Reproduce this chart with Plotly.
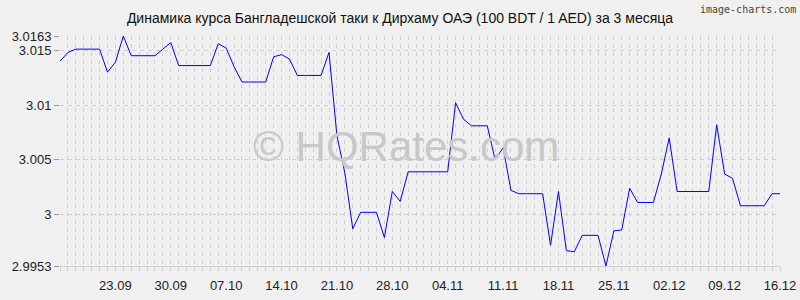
import pandas as pd
import plotly.graph_objects as go

start_date = "2024-09-16"
rates = [
    3.0140, 3.0148, 3.0151, 3.0151, 3.0151, 3.0151, 3.0130, 3.0139, 3.0163, 3.0145,
    3.0145, 3.0145, 3.0145, 3.0151, 3.0157, 3.0136, 3.0136, 3.0136, 3.0136, 3.0136,
    3.0156, 3.0152, 3.0135, 3.0121, 3.0121, 3.0121, 3.0121, 3.0144, 3.0146, 3.0142,
    3.0127, 3.0127, 3.0127, 3.0127, 3.0148, 3.0072, 3.0038, 2.9987, 3.0002, 3.0002,
    3.0002, 2.9979, 3.0021, 3.0012, 3.0039, 3.0039, 3.0039, 3.0039, 3.0039, 3.0039,
    3.0102, 3.0087, 3.0081, 3.0081, 3.0081, 3.0050, 3.0061, 3.0022, 3.0019, 3.0019,
    3.0019, 3.0019, 2.9972, 3.0021, 2.9967, 2.9966, 2.9981, 2.9981, 2.9981, 2.9953,
    2.9985, 2.9986, 3.0024, 3.0011, 3.0011, 3.0011, 3.0037, 3.0070, 3.0021, 3.0021,
    3.0021, 3.0021, 3.0021, 3.0082, 3.0037, 3.0033, 3.0008, 3.0008, 3.0008, 3.0008,
    3.0019, 3.0019,
]
dates = pd.date_range(start_date, periods=len(rates), freq="D")

x_tick_dates = pd.date_range("2024-09-23", "2024-12-16", freq="7D")
x_tick_labels = ["23.09", "30.09", "07.10", "14.10", "21.10", "28.10", "04.11",
                 "11.11", "18.11", "25.11", "02.12", "09.12", "16.12"]
y_tick_vals = [2.9953, 3.0, 3.005, 3.01, 3.015, 3.0163]
y_tick_text = ["2.9953", "3", "3.005", "3.01", "3.015", "3.0163"]

title_text = "Динамика курса Бангладешской таки к Дирхаму ОАЭ (100 BDT / 1 AED) за 3 месяца"

bg = "#f0f0f0"
grid = "#cfcfcf"
dash = "4px,4px"

fig = go.Figure()
fig.add_trace(go.Scatter(x=dates, y=rates, mode="lines",
                         line=dict(color="#0000ff", width=1), hoverinfo="x+y"))

fig.update_layout(
    width=800, height=300,
    margin=dict(l=60, r=20, t=36, b=34, autoexpand=False),
    paper_bgcolor=bg, plot_bgcolor=bg,
    showlegend=False,
    font=dict(family="Liberation Sans, Arial, sans-serif", size=13, color="#222222"),
    title=dict(text=title_text, x=0.5, xanchor="center", y=0.94, yanchor="middle",
               font=dict(size=14, color="#111111")),
    annotations=[
        dict(text="© HQRates.com", xref="paper", yref="paper", x=0.48, y=0.52,
             xanchor="center", yanchor="middle", showarrow=False,
             font=dict(size=42, color="#c8c8c8", family="Liberation Sans, Arial, sans-serif")),
        dict(text="image-charts.com", xref="paper", yref="paper", x=1.0, y=1.0,
             xanchor="right", yanchor="top", showarrow=False, xshift=18, yshift=34,
             font=dict(size=10, color="#444444", family="DejaVu Sans Mono, monospace")),
    ],
)

fig.update_xaxes(
    type="date", automargin=False,
    range=[dates[0], dates[-1]],
    tickvals=list(x_tick_dates), ticktext=x_tick_labels,
    ticks="outside", ticklen=4, tickcolor=grid, ticklabelstandoff=3,
    showgrid=True, gridcolor=grid, griddash=dash, gridwidth=1,
    minor=dict(dtick=86400000, ticks="outside", ticklen=4, tickcolor=grid,
               showgrid=True, gridcolor=grid, griddash=dash, gridwidth=1),
    showline=True, linecolor=grid, linewidth=1,
    zeroline=False, fixedrange=True,
)
fig.update_yaxes(
    automargin=False,
    range=[2.9953, 3.0163],
    tickvals=y_tick_vals, ticktext=y_tick_text,
    ticks="outside", ticklen=5, tickcolor="#999999",
    showgrid=True, gridcolor=grid, griddash=dash, gridwidth=1,
    showline=False, zeroline=False, fixedrange=True,
)

fig.write_html("out.html")
